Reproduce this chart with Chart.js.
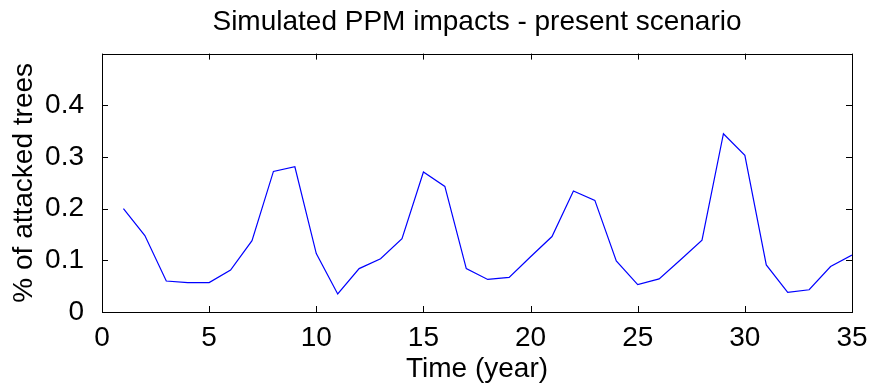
<!DOCTYPE html>
<html>
<head>
<meta charset="utf-8">
<script src="https://cdn.jsdelivr.net/npm/chart.js@4/dist/chart.umd.min.js"></script>
<style>
  html, body { margin: 0; padding: 0; background: #fff; }
  #wrap { width: 869px; height: 386px; }
</style>
</head>
<body>
<div id="wrap"><canvas id="ppmChart" width="869" height="386"></canvas></div>
<script>
// years 1..35 and the simulated share of attacked trees
const years = [1, 2, 3, 4, 5, 6, 7, 8, 9, 10, 11, 12, 13, 14, 15, 16, 17, 18,
  19, 20, 21, 22, 23, 24, 25, 26, 27, 28, 29, 30, 31, 32, 33, 34, 35];
const attacked = [0.200, 0.148, 0.060, 0.057, 0.057, 0.081, 0.138, 0.272, 0.281, 0.113,
  0.035, 0.084, 0.103, 0.142, 0.271, 0.243, 0.084, 0.063, 0.067, 0.107,
  0.146, 0.234, 0.216, 0.099, 0.053, 0.064, 0.101, 0.139, 0.345, 0.303,
  0.091, 0.038, 0.043, 0.088, 0.110];
const xTicks = [0, 5, 10, 15, 20, 25, 30, 35];
const yTicks = [0, 0.1, 0.2, 0.3, 0.4];

const FONT = "Arial, 'Liberation Sans', Helvetica, sans-serif";
const FS = 28;

// matlab style box with inward ticks on all four sides
const boxTicks = {
  id: 'boxTicks',
  afterDraw(chart) {
    const { ctx, chartArea: a, scales } = chart;
    const len = 6;
    ctx.save();
    ctx.strokeStyle = '#000';
    ctx.lineWidth = 1;
    ctx.beginPath();
    xTicks.forEach(v => {
      const px = Math.round(scales.x.getPixelForValue(v)) + 0.5;
      ctx.moveTo(px, a.bottom); ctx.lineTo(px, a.bottom - len);
      ctx.moveTo(px, a.top); ctx.lineTo(px, a.top + len);
    });
    yTicks.forEach(v => {
      const py = Math.round(scales.y.getPixelForValue(v)) + 0.5;
      ctx.moveTo(a.left, py); ctx.lineTo(a.left + len, py);
      ctx.moveTo(a.right, py); ctx.lineTo(a.right - len, py);
    });
    ctx.stroke();
    ctx.strokeRect(Math.round(a.left) + 0.5, Math.round(a.top) + 0.5,
      Math.round(a.right - a.left), Math.round(a.bottom - a.top));
    ctx.restore();
  }
};

const ctx = document.getElementById('ppmChart').getContext('2d');
new Chart(ctx, {
  type: 'line',
  data: {
    datasets: [{
      label: 'attacked',
      data: years.map((y, i) => ({ x: y, y: attacked[i] })),
      borderColor: 'rgb(0, 0, 255)',
      borderWidth: 1.2,
      pointRadius: 0,
      tension: 0,
      fill: false
    }]
  },
  options: {
    responsive: false,
    animation: false,
    layout: { padding: { left: 0, right: 17, top: 0, bottom: 0 } },
    plugins: {
      legend: { display: false },
      tooltip: { enabled: false },
      title: {
        display: true,
        fullSize: false,
        text: 'Simulated PPM impacts - present scenario',
        color: '#000',
        font: { family: FONT, size: FS, weight: 'normal' },
        padding: { top: 5, bottom: 15 }
      }
    },
    scales: {
      x: {
        type: 'linear',
        min: 0,
        max: 35,
        afterFit(scale) {
          scale.height = 74;
          scale.paddingLeft = 0;
          scale.paddingRight = 0;
        },
        afterBuildTicks(scale) { scale.ticks = xTicks.map(v => ({ value: v })); },
        grid: { display: false },
        border: { display: false },
        ticks: { color: '#000', padding: 1, maxRotation: 0,
          font: { family: FONT, size: FS } },
        title: { display: true, text: 'Time (year)', color: '#000',
          font: { family: FONT, size: FS }, padding: { top: 0, bottom: 0 } }
      },
      y: {
        min: 0,
        max: 0.5,
        afterFit(scale) {
          scale.width = 102;
          scale.paddingTop = 0;
          scale.paddingBottom = 0;
        },
        afterBuildTicks(scale) { scale.ticks = yTicks.map(v => ({ value: v })); },
        grid: { display: false },
        border: { display: false },
        ticks: { color: '#000', padding: 10,
          font: { family: FONT, size: FS },
          callback: v => String(Math.round(v * 10) / 10) },
        title: { display: true, text: '% of attacked trees', color: '#000',
          font: { family: FONT, size: FS }, padding: { top: 7, bottom: 0 } }
      }
    }
  },
  plugins: [boxTicks]
});
</script>
</body>
</html>
